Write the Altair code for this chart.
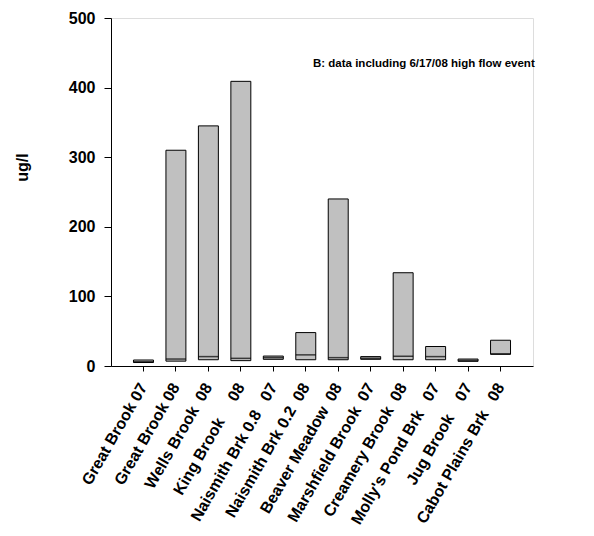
import altair as alt
import pandas as pd

NB = "\u00a0"
sites = ["Great Brook 07", "Great Brook 08", "Wells Brook" + NB * 2 + "08",
         "King Brook" + NB * 5 + "08", "Naismith Brk 0.8" + NB * 3 + "07",
         "Naismith Brk 0.2" + NB * 2 + "08", "Beaver Meadow" + NB * 2 + "08",
         "Marshfield Brook" + NB * 2 + "07", "Creamery Brook" + NB * 2 + "08",
         "Molly's Pond Brk" + NB * 3 + "07", "Jug Brook" + NB * 4 + "07",
         "Cabot Plains Brk" + NB * 3 + "08"]
q1 = [5, 7, 9, 7.7, 9.6, 9, 9, 9.6, 9, 9, 6.7, 16.8]
median = [6, 10, 13.5, 11, 12, 16, 12, 11, 14, 13.5, 8, 17.5]
q3 = [8.6, 310, 345, 409, 14.3, 48, 240, 13.5, 134, 28, 10, 37]

note = ["B: data including 6/17/08 high flow event"]

df = pd.DataFrame({"site": sites, "q1": q1, "median": median, "q3": q3})
FONT = "Liberation Sans"

xenc = alt.X("site:N", sort=sites, title=None,
             scale=alt.Scale(paddingInner=0.385, paddingOuter=0.6925),
             axis=alt.Axis(labelAngle=300, labelAlign="right", labelBaseline="middle",
                           labelFont=FONT, labelFontWeight="bold", labelFontSize=16,
                           labelColor="black", tickSize=5, labelPadding=13,
                           domainColor="black", tickColor="black", labelLimit=300))

yscale = alt.Scale(domain=[0, 500], nice=False, zero=True)
yaxis = alt.Axis(values=[0, 100, 200, 300, 400, 500], grid=False, tickSize=7,
                 labelPadding=9, labelFont=FONT, labelFontWeight="bold",
                 labelFontSize=16, labelColor="black", domainColor="black",
                 tickColor="black", title="ug/l", titleFont=FONT,
                 titleFontWeight="bold", titleFontSize=16, titleColor="black",
                 titleAngle=270, titleX=-89, titleY=149, titleBaseline="middle",
                 titleAlign="center")

boxes = alt.Chart(df).mark_bar(fill="#c0c0c0", stroke="black", strokeWidth=1).encode(
    x=xenc,
    y=alt.Y("q1:Q", scale=yscale, axis=yaxis),
    y2="q3:Q",
)

med = alt.Chart(df).mark_tick(color="black", thickness=1.5, size=20).encode(
    x=alt.X("site:N", sort=sites),
    y=alt.Y("median:Q"),
)

text = alt.Chart(pd.DataFrame({"t": note})).mark_text(
    align="left", baseline="alphabetic", font=FONT, fontWeight="bold",
    fontSize=11.5, color="black").encode(
    text="t:N", x=alt.value(202), y=alt.value(49))

chart = alt.layer(boxes, med, text).properties(
    width=422, height=348,
    autosize=alt.AutoSizeParams(type="none"),
    padding={"left": 111, "top": 18, "right": 61, "bottom": 170},
).configure_view(stroke=None).configure(background="white")

chart.save("out.html", embed_options={"renderer": "svg", "actions": False})
